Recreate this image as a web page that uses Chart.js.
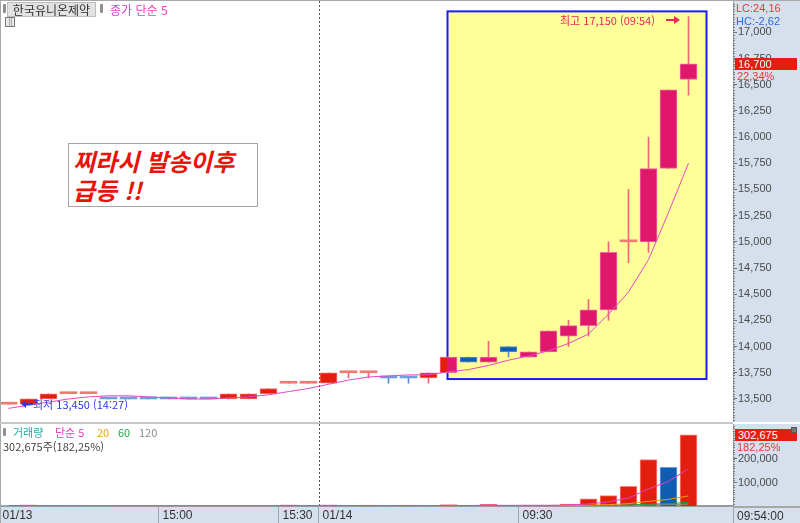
<!DOCTYPE html>
<html lang="ko">
<head>
<meta charset="utf-8">
<title>한국유니온제약</title>
<script src="https://cdn.jsdelivr.net/npm/chart.js@4.4.1/dist/chart.umd.min.js"></script>
<style>
  html, body { margin:0; padding:0; background:#ffffff; }
  #wrap { position:relative; width:800px; height:523px; overflow:hidden; background:#fff;
          font-family:"Noto Sans CJK KR","Noto Sans",sans-serif; }
  canvas { position:absolute; left:0; }
  #cA { top:0; }
  #cB { top:424px; }
  .t { position:absolute; white-space:nowrap; font-size:11px; line-height:12px; }
  .n { font-family:"Liberation Sans", Arial, sans-serif; font-size:11px; line-height:12px; }
  .ln { position:absolute; }
</style>
</head>
<body>
<div id="wrap">
  <canvas id="cA" width="800" height="422"></canvas>
  <canvas id="cB" width="800" height="99"></canvas>

  <!-- frame lines -->
  <div class="ln" style="left:0;top:0;width:800px;height:1px;background:#a8a8a8"></div>
  <div class="ln" style="left:0;top:0;width:1px;height:523px;background:#a8a8a8"></div>
  <div class="ln" style="left:0;top:422px;width:733px;height:2px;background:#c6c6c6"></div>
  <div class="ln" style="left:733px;top:506px;width:67px;height:2px;background:#a8a8a8"></div>
  <div class="ln" style="left:733px;top:508px;width:1px;height:15px;background:#9aa4b0"></div>

  <!-- title row -->
  <div class="ln" style="left:3px;top:4px;width:3px;height:9px;background:#8e8e8e;border-radius:1px"></div>
  <div class="t" style="left:7px;top:2px;width:89px;height:15px;box-sizing:border-box;background:#e2e2e2;border:1px solid #bdbdbd;color:#333;font-size:12px;line-height:13px;text-align:center">한국유니온제약</div>
  <div class="ln" style="left:100px;top:4px;width:3px;height:9px;background:#8e8e8e;border-radius:1px"></div>
  <div class="t" style="left:110px;top:3px;color:#e23cc0;font-size:12px;line-height:13px">종가 단순 5</div>
  <div class="ln" style="left:5px;top:17px;width:10px;height:10px;box-sizing:border-box;border:1px solid #7a7a7a;background:linear-gradient(#aaa,#aaa) 3px 0/1px 100% no-repeat, linear-gradient(#aaa,#aaa) 5px 0/1px 100% no-repeat, #e8e8e8"></div>

  <!-- comment box -->
  <div class="t" style="left:68px;top:143px;width:190px;height:64px;box-sizing:border-box;background:#fff;border:1px solid #a4a4a4;padding:2px 0 0 4px;color:#e8140a;font-size:24px;line-height:29px;font-weight:bold;font-style:italic">찌라시 발송이후<br>급등 !!</div>

  <!-- high label -->
  <div class="t" style="left:560px;top:14px;color:#e8285a">최고 17,150 (09:54)</div>
  <div class="ln" style="left:666px;top:19px;width:8px;height:2px;background:#e8285a"></div>
  <div class="ln" style="left:674px;top:16px;width:0;height:0;border-top:4px solid transparent;border-bottom:4px solid transparent;border-left:6px solid #e8285a"></div>

  <!-- low label -->
  <div class="ln" style="left:21px;top:400px;width:0;height:0;border-top:4px solid transparent;border-bottom:4px solid transparent;border-right:5px solid #2a3ae6"></div>
  <div class="ln" style="left:26px;top:403px;width:7px;height:2px;background:#2a3ae6"></div>
  <div class="t" style="left:33px;top:398px;color:#2a3ae6">최저 13,450 (14:27)</div>

  <!-- right panel texts (price) -->
  <div class="t n" style="left:736px;top:2px;color:#e83838">LC:24,16</div>
  <div class="t n" style="left:736px;top:15px;color:#3366dd">HC:-2,62</div>
  <div class="t n" style="left:735px;top:58px;width:62px;height:12px;background:#e41e10;color:#fff;padding-left:3px;box-sizing:border-box">16,700</div>
  <div class="t n" style="left:737px;top:70px;color:#e83838">22,34%</div>

  <!-- volume pane texts -->
  <div class="ln" style="left:3px;top:428px;width:3px;height:8px;background:#8e8e8e;border-radius:1px"></div>
  <div class="t" style="left:13px;top:426px;color:#2aa6a0">거래량</div>
  <div class="t" style="left:55px;top:426px;color:#e23cc0">단순 5</div>
  <div class="t" style="left:97px;top:426px;color:#f0a010">20</div>
  <div class="t" style="left:118px;top:426px;color:#20a848">60</div>
  <div class="t" style="left:139px;top:426px;color:#8a8a8a">120</div>
  <div class="t" style="left:3px;top:440px;color:#444">302,675주(182,25%)</div>

  <div class="t n" style="left:735px;top:429px;width:62px;height:12px;background:#e41e10;color:#fff;padding-left:3px;box-sizing:border-box">302,675</div>
  <div class="ln" style="left:791px;top:427px;width:6px;height:6px;background:#777;border:1px solid #555;box-sizing:border-box"></div>
  <div class="t n" style="left:737px;top:441px;color:#e83838">182,25%</div>
  <div class="t n" style="left:737px;top:510px;color:#333;font-size:12px">09:54:00</div>
</div>

<script>
// ---------------- data ----------------
const days = ['01/13','01/13','01/13','01/13','01/13','01/13','01/13','01/13','01/13','01/13','01/13','01/13','01/13','01/13','01/13','01/13',
              '01/14','01/14','01/14','01/14','01/14','01/14','01/14','01/14','01/14','01/14','01/14','01/14','01/14','01/14','01/14','01/14','01/14','01/14','01/14'];
const times = ['14:24','14:27','14:31','14:35','14:39','14:44','14:48','14:53','15:00','15:03','15:06','15:09','15:13','15:18','15:30','15:40',
               '09:00','09:01','09:03','09:05','09:07','09:09','09:12','09:15','09:18','09:21','09:30','09:33','09:36','09:39','09:42','09:45','09:48','09:51','09:54'];

const opens  = [13450,13450,13500,13550,13550,13500,13500,13500,13500,13500,13500,13500,13500,13550,13650,13650,
                13650,13750,13750,13700,13700,13700,13750,13900,13850,14000,13900,13950,14100,14200,14350,15000,15000,15700,16550];
const highs  = [13450,13500,13550,13550,13550,13500,13500,13500,13500,13500,13500,13550,13550,13600,13650,13650,
                13750,13750,13750,13700,13700,13750,13900,13900,14050,14000,13950,14150,14250,14450,15000,15500,16000,16450,17150];
const lows   = [13450,13450,13500,13550,13550,13500,13500,13500,13500,13500,13500,13500,13500,13550,13650,13650,
                13650,13700,13700,13650,13650,13650,13750,13850,13850,13900,13900,13950,14000,14100,14250,14800,14900,15700,16400];
const closes = [13450,13500,13550,13550,13550,13500,13500,13500,13500,13500,13500,13550,13550,13600,13650,13650,
                13750,13750,13750,13700,13700,13750,13900,13850,13900,13950,13950,14150,14200,14350,14900,15000,15700,16450,16700];
const priceMA5 = [13410,13440,13470,13500,13520,13530,13530,13520,13510,13500,13500,13510,13520,13540,13570,13600,
                  13640,13680,13710,13720,13730,13730,13760,13780,13820,13870,13910,13960,14030,14120,14310,14520,14830,15280,15750];

const volume = [2000,5000,300,200,200,200,200,300,500,200,200,300,300,500,5000,300,
                4500,300,4000,300,4000,300,6000,800,7000,1000,3000,4000,8000,30000,44000,84000,198000,165000,302675];
const volMA5   = [1500,1900,1700,1500,1300,900,600,600,700,700,700,700,700,800,1600,1600,
                  1700,1700,2200,1500,2200,1500,2400,2000,3100,2700,3100,2800,4000,8800,17400,33700,72600,104200,158700];
const volMA20  = [1600,1600,1600,1500,1500,1500,1400,1400,1400,1400,1400,1400,1400,1400,1500,1500,
                  1500,1500,1500,1500,1500,1500,1600,1600,1800,1800,1800,1900,2200,3600,5700,9900,19700,27900,42800];
const volMA60  = [1400,1400,1400,1400,1400,1400,1400,1300,1300,1300,1300,1300,1300,1300,1300,1300,
                  1300,1300,1300,1300,1300,1300,1300,1300,1400,1400,1400,1400,1500,2000,2800,4200,7500,10200,15300];
const volMA120 = [1200,1200,1200,1200,1200,1200,1200,1200,1200,1200,1200,1200,1200,1200,1200,1200,
                  1200,1200,1200,1200,1200,1200,1200,1200,1200,1200,1200,1200,1200,1400,1800,2500,4200,5600,8000];

const priceTicks  = [13500,13750,14000,14250,14500,14750,15000,15250,15500,15750,16000,16250,16500,16750,17000];
const volumeTicks = [100000,200000];
const xTickLabels = ['01/13','15:00','15:30','01/14','09:30'];

// ---------------- styling ----------------
const PANEL = '#d6e0ec';
const RED = '#e41e0f', RED_B = '#f26a60';
const PINK = '#e0186c', PINK_B = '#f066a0';
const BLUE = '#0f5cb4', BLUE_B = '#5a8fd0';
const DOJI_UP = '#f07a70', DOJI_DN = '#6f9fdc';
const WICK_UP = '#f2657c', WICK_DN = '#5d8ccc';
const X_MIN = -0.425, X_MAX = 36.225;
const highlight = { x0: 21.95, x1: 34.9, top: 17200, bottom: 13690 };
const FONT = '"Liberation Sans", Arial, sans-serif';
const CANVAS_W = 800;

Chart.defaults.font.family = FONT;

const dir = [];
closes.forEach((c, i) => {
  const o = opens[i];
  if (c > o) dir.push(1);
  else if (c < o) dir.push(-1);
  else if (i === 0) dir.push(1);
  else if (c > closes[i - 1]) dir.push(1);
  else if (c < closes[i - 1]) dir.push(-1);
  else dir.push(dir[i - 1]);
});

function highlightLeftPx() {
  return (highlight.x0 - X_MIN) / (X_MAX - X_MIN) * (CANVAS_W - 67);
}
const gradCache = {};
function splitColor(chart, outside, inside) {
  const key = outside + inside;
  if (gradCache[key]) return gradCache[key];
  const f = Math.min(Math.max(highlightLeftPx() / CANVAS_W, 0), 1);
  const g = chart.ctx.createLinearGradient(0, 0, CANVAS_W, 0);
  g.addColorStop(0, outside); g.addColorStop(f, outside);
  g.addColorStop(f, inside); g.addColorStop(1, inside);
  gradCache[key] = g;
  return g;
}
function tickIndex(lbl) {
  return lbl.indexOf('/') >= 0 ? days.indexOf(lbl) : times.indexOf(lbl);
}

// ---------------- plugins ----------------
const panelPlugin = {
  id: 'panel',
  beforeDraw(chart, args, opts) {
    const { ctx, chartArea: a, width, height } = chart;
    ctx.save();
    ctx.fillStyle = '#ffffff';
    ctx.fillRect(0, 0, width, height);
    ctx.fillStyle = PANEL;
    ctx.fillRect(a.right, 0, width - a.right, height);
    if (opts && opts.strip) ctx.fillRect(0, a.bottom, width, height - a.bottom);
    ctx.restore();
  },
  afterDraw(chart, args, opts) {
    const { ctx, chartArea: a } = chart;
    const ys = chart.scales.y;
    const step = (opts && opts.minorStep) || 0;
    if (!step) return;
    ctx.save();
    ctx.strokeStyle = '#7c7c7c';
    ctx.lineWidth = 1;
    ctx.beginPath();
    for (let v = Math.ceil(ys.min / step) * step; v <= ys.max; v += step) {
      const y = Math.round(ys.getPixelForValue(v)) + 0.5;
      if (y < a.top || y > a.bottom) continue;
      ctx.moveTo(a.right, y); ctx.lineTo(a.right + 2, y);
    }
    ctx.stroke();
    ctx.restore();
  }
};

const daySepPlugin = {
  id: 'daySep',
  beforeDatasetsDraw(chart) {
    const { ctx, chartArea: a } = chart;
    const x = Math.round(chart.scales.x.getPixelForValue(days.indexOf('01/14') - 0.5)) + 0.5;
    ctx.save();
    ctx.strokeStyle = '#505050';
    ctx.lineWidth = 1;
    ctx.setLineDash([2, 2]);
    ctx.beginPath(); ctx.moveTo(x, a.top); ctx.lineTo(x, a.bottom); ctx.stroke();
    ctx.restore();
  }
};

const highlightPlugin = {
  id: 'highlight',
  beforeDatasetsDraw(chart) {
    const { ctx } = chart;
    const xs = chart.scales.x, ys = chart.scales.y;
    const x0 = xs.getPixelForValue(highlight.x0), x1 = xs.getPixelForValue(highlight.x1);
    const y0 = ys.getPixelForValue(highlight.top), y1 = ys.getPixelForValue(highlight.bottom);
    ctx.save();
    ctx.fillStyle = '#ffff99';
    ctx.fillRect(x0, y0, x1 - x0, y1 - y0);
    ctx.strokeStyle = '#1c1cff';
    ctx.lineWidth = 2;
    ctx.strokeRect(x0, y0, x1 - x0, y1 - y0);
    ctx.restore();
  }
};

// ---------------- price chart ----------------
new Chart(document.getElementById('cA'), {
  type: 'bar',
  data: {
    datasets: [
      { type: 'line', label: '종가 단순 5', data: priceMA5.map((v, i) => ({ x: i, y: v })),
        borderColor: '#e448c4', borderWidth: 1, pointRadius: 0, tension: 0, order: 1 },
      { label: '캔들', data: opens.map((o, i) => ({ x: i, y: [o, closes[i]] })),
        barThickness: 17, minBarLength: 2, grouped: false, borderSkipped: false, order: 2,
        backgroundColor: (c) => {
          const i = c.dataIndex; if (i === undefined) return RED;
          const doji = opens[i] === closes[i];
          if (dir[i] < 0) return doji ? DOJI_DN : BLUE;
          if (doji) return DOJI_UP;
          return splitColor(c.chart, RED, PINK);
        },
        borderColor: (c) => {
          const i = c.dataIndex; if (i === undefined) return RED_B;
          if (dir[i] < 0) return BLUE_B;
          return splitColor(c.chart, RED_B, PINK_B);
        },
        borderWidth: (c) => { const i = c.dataIndex; return (i !== undefined && opens[i] === closes[i]) ? 0 : 1; }
      },
      { label: '꼬리', data: lows.map((l, i) => ({ x: i, y: [l, highs[i]] })),
        barThickness: 1, grouped: false, borderWidth: 0, order: 3,
        backgroundColor: (c) => (dir[c.dataIndex] < 0 ? WICK_DN : WICK_UP) }
    ]
  },
  options: {
    responsive: false, animation: false, events: [], devicePixelRatio: 1,
    layout: { padding: { top: 1, left: 0, right: 0, bottom: 0 }, autoPadding: false },
    plugins: { legend: { display: false }, tooltip: { enabled: false }, panel: { minorStep: 25 } },
    scales: {
      x: { type: 'linear', min: X_MIN, max: X_MAX, offset: false, display: false },
      y: {
        position: 'right', min: 13280, max: 17299,
        afterBuildTicks: (s) => { s.ticks = priceTicks.map(v => ({ value: v })); },
        afterFit: (s) => { s.width = 67; s.paddingTop = 0; s.paddingBottom = 0; },
        grid: { drawOnChartArea: false, drawTicks: true, tickLength: 4, color: '#6e6e6e' },
        border: { display: true, color: '#9aa2ac' },
        ticks: { padding: 1, color: '#4a4a4a', font: { family: FONT, size: 11 } }
      }
    }
  },
  plugins: [panelPlugin, daySepPlugin, highlightPlugin]
});

// ---------------- volume chart ----------------
new Chart(document.getElementById('cB'), {
  type: 'bar',
  data: {
    datasets: [
      { type: 'line', label: '단순 5', data: volMA5.map((v, i) => ({ x: i, y: v })),
        borderColor: '#e040c0', borderWidth: 1, pointRadius: 0, order: 1 },
      { type: 'line', label: '20', data: volMA20.map((v, i) => ({ x: i, y: v })),
        borderColor: '#f09a10', borderWidth: 1, pointRadius: 0, order: 2 },
      { type: 'line', label: '60', data: volMA60.map((v, i) => ({ x: i, y: v })),
        borderColor: '#20a048', borderWidth: 1, pointRadius: 0, order: 3 },
      { type: 'line', label: '120', data: volMA120.map((v, i) => ({ x: i, y: v })),
        borderColor: '#8a8a8a', borderWidth: 1, pointRadius: 0, order: 4 },
      { label: '거래량', data: volume.map((v, i) => ({ x: i, y: v })),
        barThickness: 17, grouped: false, borderSkipped: 'start', borderWidth: 1, order: 5,
        backgroundColor: (c) => { const i = c.dataIndex; if (!i) return '#8ab4e6'; return volume[i] >= volume[i - 1] ? RED : BLUE; },
        borderColor: (c) => { const i = c.dataIndex; if (!i) return '#8ab4e6'; return volume[i] >= volume[i - 1] ? '#f5857c' : '#6b9be0'; } }
    ]
  },
  options: {
    responsive: false, animation: false, events: [], devicePixelRatio: 1,
    layout: { padding: 0, autoPadding: false },
    plugins: { legend: { display: false }, tooltip: { enabled: false }, panel: { minorStep: 10000, strip: true } },
    scales: {
      x: {
        type: 'linear', min: X_MIN, max: X_MAX, offset: false, position: 'bottom',
        afterBuildTicks: (s) => { s.ticks = xTickLabels.map(l => ({ value: tickIndex(l) - 0.5 })); },
        afterFit: (s) => { s.height = 17; s.paddingLeft = 0; s.paddingRight = 0; },
        grid: { display: true, offset: false, drawOnChartArea: false, drawTicks: true, tickLength: 17, color: '#9ea6b2' },
        border: { display: true, color: '#9a9a9a', width: 2 },
        ticks: { align: 'start', padding: -15, labelOffset: 4, autoSkip: false, maxRotation: 0, minRotation: 0,
                 color: '#333', font: { family: FONT, size: 12 },
                 callback: (v, i) => xTickLabels[i] }
      },
      y: {
        position: 'right', min: 0, max: 348900,
        afterBuildTicks: (s) => { s.ticks = volumeTicks.map(v => ({ value: v })); },
        afterFit: (s) => { s.width = 67; s.paddingTop = 0; s.paddingBottom = 0; },
        grid: { drawOnChartArea: false, drawTicks: true, tickLength: 4, color: '#6e6e6e' },
        border: { display: true, color: '#9aa2ac' },
        ticks: { padding: 1, color: '#4a4a4a', font: { family: FONT, size: 11 } }
      }
    }
  },
  plugins: [panelPlugin, daySepPlugin]
});
</script>
</body>
</html>
